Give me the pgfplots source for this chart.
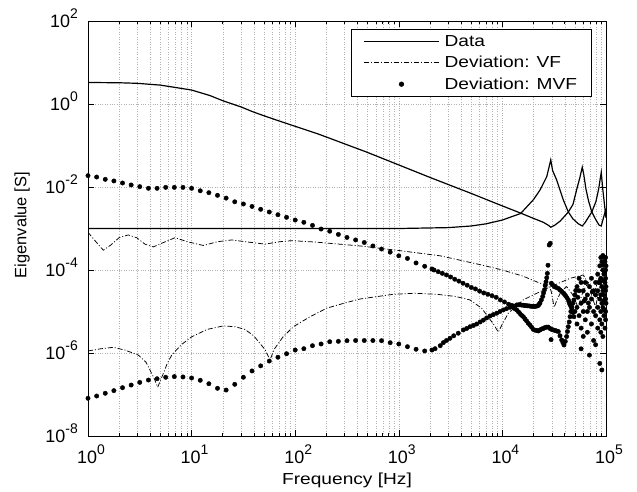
\documentclass[border=0pt]{standalone}
\usepackage{fontspec}
\setmainfont{Liberation Sans}
\usepackage{graphicx}
\usepackage{pgfplots}
\pgfplotsset{compat=1.18}
\newcommand{\sups}[1]{\raisebox{8.5bp}{\fontsize{14}{14}\selectfont #1}}
\newcommand{\wide}[1]{\scalebox{1.2}[1]{#1}}
\pgfplotsset{
  lineleg/.style={legend image code/.code={\draw[##1] (0bp,0bp) -- (75bp,0bp);}},
  dotleg/.style={legend image code/.code={\draw[##1] plot coordinates {(37.5bp,0bp)};}},
}
\begin{document}
\begin{tikzpicture}
\useasboundingbox (0,0) rectangle (637bp,492bp);
\begin{axis}[
  at={(88bp,56bp)}, anchor=south west,
  scale only axis, width=518bp, height=415bp,
  xmode=log, ymode=log,
  xmin=1, xmax=1e5, ymin=1e-8, ymax=1e2,
  xtick={1,10,100,1000,10000,100000},
  xticklabels={10\sups{0},10\sups{1},10\sups{2},10\sups{3},10\sups{4},10\sups{5}},
  minor xtick={2,3,4,5,6,7,8,9,20,30,40,50,60,70,80,90,200,300,400,500,600,700,800,900,2000,3000,4000,5000,6000,7000,8000,9000,20000,30000,40000,50000,60000,70000,80000,90000},
  ytick={1e-8,1e-6,1e-4,1e-2,1,1e2},
  yticklabels={10\sups{-8},10\sups{-6},10\sups{-4},10\sups{-2},10\sups{0},10\sups{2}},
  yminorticks=false,
  xmajorgrids, xminorgrids, ymajorgrids,
  grid style={dotted, gray!60, line width=0.5bp},
  minor grid style={dotted, gray!60, line width=0.5bp},
  tick align=inside,
  major tick length=6bp, minor tick length=3bp,
  every tick/.style={black, line width=0.6bp},
  axis line style={line width=0.9bp},
  tick label style={font=\fontsize{18}{20}\selectfont, inner sep=0pt},
  xticklabel style={anchor=north, yshift=-9bp, xshift=3bp},
  yticklabel style={anchor=base east, xshift=-10bp, yshift=-6.4bp},
  xlabel={\wide{Frequency [Hz]}}, ylabel={Eigenvalue [S]},
  every axis x label/.style={at={(rel axis cs:0.5,-0.106)}, anchor=center, font=\fontsize{16}{18}\selectfont},
  every axis y label/.style={at={(rel axis cs:-0.1274,0.508)}, rotate=90, anchor=center, font=\fontsize{16.5}{18}\selectfont},
  legend cell align=left,
  legend style={at={(0.972,0.98)}, anchor=north east, font=\fontsize{16}{18}\selectfont, draw=black, line width=0.8bp, fill=white, inner xsep=12bp, inner ysep=3.5bp, row sep=4.5bp, column sep=3bp},
]
% Data (two eigenvalues)
\addplot[black, line width=1.2bp, lineleg] coordinates {
(1,3.3)(2,3.25)(3,3.15)(5,2.85)(7,2.5)(10,2.17)(15,1.6)(20,1.2)(30,0.85)(39,0.65)(50,0.52)(70,0.39)(100,0.29)(166,0.19)(200,0.16)(500,0.068)(1000,0.034)(2000,0.017)(5000,0.007)(1e4,0.0035)(1.5e4,0.00235)(2e4,0.00175)(2.5e4,0.0014)(2.8e4,0.00118)(2.93e4,0.00107)(3.2e4,0.0012)(3.6e4,0.0015)(4e4,0.002)(4.33e4,0.0025)(4.8e4,0.0038)(5.2e4,0.0085)(5.6e4,0.017)(5.9e4,0.03)(6.1e4,0.02)(6.4e4,0.009)(6.8e4,0.0045)(7.3e4,0.0025)(8e4,0.0016)(8.6e4,0.0012)(9e4,0.00115)(9.5e4,0.0019)(1e5,0.003)
};
\addlegendentry{\wide{Data}}
\addplot[black, line width=1.2bp, forget plot] coordinates {
(1,0.001)(1000,0.001)(3000,0.00105)(5000,0.00115)(7000,0.0013)(1e4,0.0016)(1.5e4,0.0023)(2e4,0.005)(2.31e4,0.0085)(2.68e4,0.0178)(2.93e4,0.045)(3.05e4,0.025)(3.34e4,0.0148)(3.87e4,0.0049)(4.33e4,0.0025)(4.8e4,0.0017)(5.4e4,0.0013)(5.9e4,0.00115)(6.3e4,0.0014)(6.8e4,0.0019)(7.3e4,0.0025)(8e4,0.0045)(8.5e4,0.009)(8.8e4,0.016)(9e4,0.0226)(9.3e4,0.009)(9.7e4,0.0035)(1e5,0.0018)
};
% VF deviation
\addplot[black, line width=0.75bp, dash pattern=on 5bp off 2bp on 1bp off 2bp, lineleg] coordinates {
(1,8.1e-4)(1.175,5.0e-4)(1.406,3.0e-4)(1.66,4.0e-4)(1.995,6.0e-4)(2.449,7.0e-4)(2.951,6.0e-4)(3.548,4.2e-4)(4.266,3.6e-4)(5.248,4.5e-4)(6.918,6.0e-4)(9.12,4.8e-4)(12.97,3.9e-4)(17.78,4.8e-4)(24.38,5.3e-4)(35.48,4.7e-4)(51.2,4.2e-4)(70.8,4.8e-4)(92.5,5.1e-4)(158.5,4.7e-4)(422,3.8e-4)(1000,2.95e-4)(2500,2.2e-4)(6310,1.32e-4)(1e4,1e-4)(1.585e4,7.1e-5)(2.31e4,4.8e-5)(2.75e4,4.4e-5)(2.95e4,3.16e-5)(3.16e4,1.26e-5)(3.39e4,2.0e-5)(3.72e4,3.16e-5)(4.17e4,3.98e-5)(4.79e4,2.51e-5)(5.37e4,1.26e-5)(6.03e4,3.16e-5)(6.76e4,5.0e-5)(7.59e4,2.51e-5)(8.51e4,6.3e-5)(9.33e4,3.16e-5)(1e5,5.0e-5)
};
\addlegendentry{\wide{Deviation: VF}}
\addplot[black, line width=0.75bp, dash pattern=on 5bp off 2bp on 1bp off 2bp, forget plot] coordinates {
(1,1.12e-6)(1.318,1.26e-6)(1.754,1.37e-6)(2.291,1.17e-6)(3.062,8.9e-7)(3.631,6.0e-7)(3.963,3.9e-7)(4.365,2.4e-7)(4.71,1.5e-7)(5.012,2.2e-7)(5.333,3.2e-7)(5.821,5.6e-7)(6.427,8.9e-7)(7.943,1.58e-6)(10,2.45e-6)(14.13,3.7e-6)(20.23,4.5e-6)(26.3,4.3e-6)(32.7,3.7e-6)(39.8,2.6e-6)(51.2,1.2e-6)(57.1,6.8e-7)(63.1,1.26e-6)(75.9,2.4e-6)(95.9,4.3e-6)(138,7.4e-6)(201,1.2e-5)(295,1.58e-5)(422,2.0e-5)(885,2.6e-5)(1413,2.75e-5)(2323,2.6e-5)(3548,2.3e-5)(4864,1.9e-5)(6310,1.2e-5)(7047,8.3e-6)(8318,4.7e-6)(9120,3.2e-6)(1e4,5.0e-6)(1.14e4,9.1e-6)(1.585e4,1.9e-5)(2.68e4,3.6e-5)(4.5e4,6.3e-5)(6.04e4,7.6e-5)(6.61e4,5.2e-5)(7.24e4,2.5e-5)(7.94e4,1.26e-5)(8.51e4,3.16e-5)(9.12e4,6.3e-5)(1e5,3.16e-5)
};
% MVF deviation
\addplot[black, only marks, mark=*, mark size=2.2bp, dotleg] coordinates {
(1,0.0188)(1.212,0.0174)(1.468,0.0153)(1.778,0.014)(2.154,0.0125)(2.61,0.0112)(3.162,0.0102)(3.831,0.0093)(4.642,0.0093)(5.623,0.0098)(6.813,0.0098)(8.254,0.0098)
(10,0.0093)(12.12,0.0081)(14.68,0.0073)(17.78,0.0063)(21.54,0.0054)(26.1,0.0044)(31.62,0.0039)(38.31,0.0034)(46.42,0.0029)(56.23,0.0025)(68.13,0.00215)(82.54,0.00186)
(100,0.0016)(121.2,0.00141)(146.8,0.00119)(177.8,0.00097)(215.4,0.00086)(261,0.00072)(316.2,0.00061)(383.1,0.00053)(464.2,0.00046)(562.3,0.00038)(681.3,0.00032)(825.4,0.00027)
(1000,0.00022)(1212,0.00019)(1468,0.000148)(1778,0.000123)(2090,1.06e-4)(2188,1.0e-4)(2399,9.1e-5)(2630,8.3e-5)(2884,7.6e-5)(3162,6.8e-5)(3467,6.0e-5)(3802,5.4e-5)(4169,4.8e-5)(4571,4.3e-5)(5012,3.8e-5)(5495,3.5e-5)(6026,3.1e-5)(6607,2.8e-5)(7244,2.6e-5)(7943,2.4e-5)(8710,2.2e-5)(9550,1.9e-5)(1.047e4,1.7e-5)(1.148e4,1.5e-5)(1.23e4,1.4e-5)
(1.274e4,1.29e-5)(1.318e4,1.17e-5)(1.374e4,1.09e-5)(1.429e4,9.8e-6)(1.479e4,8.9e-6)(1.531e4,8.1e-6)(1.592e4,7.5e-6)(1.652e4,6.6e-6)(1.714e4,5.9e-6)(1.778e4,5.2e-6)(1.845e4,4.7e-6)(1.914e4,4.2e-6)(1.986e4,3.7e-6)(2.065e4,3.55e-6)(2.143e4,3.5e-6)(2.223e4,3.4e-6)(2.307e4,3.6e-6)(2.393e4,3.8e-6)(2.483e4,3.9e-6)(2.57e4,4.1e-6)(2.673e4,4.2e-6)(2.773e4,4.2e-6)(2.877e4,3.9e-6)(2.985e4,3.7e-6)(3.097e4,3.6e-6)(3.214e4,3.5e-6)(3.334e4,3.4e-6)(3.467e4,3.3e-6)(3.597e4,2.6e-6)(3.733e4,2.06e-6)(3.837e4,1.78e-6)(3.936e4,1.56e-6)(4.046e4,1.9e-6)(4.169e4,2.5e-6)(4.246e4,3.3e-6)(4.325e4,4.3e-6)(4.416e4,5.6e-6)(4.498e4,7.5e-6)(4.581e4,1.0e-5)(4.667e4,1.3e-5)(4.786e4,1.58e-5)(4.898e4,1.9e-5)
};
\addlegendentry{\wide{Deviation: MVF}}
\addplot[black, only marks, mark=*, mark size=2.2bp, forget plot] coordinates {
(1,8.1e-8)(1.212,9.2e-8)(1.468,1.07e-7)(1.778,1.24e-7)(2.154,1.46e-7)(2.61,1.69e-7)(3.162,1.96e-7)(3.831,2.23e-7)(4.642,2.4e-7)(5.623,2.6e-7)(6.813,2.7e-7)(8.254,2.65e-7)
(10,2.5e-7)(12.12,2.2e-7)(14.68,1.82e-7)(17.78,1.41e-7)(21.54,1.28e-7)(26.1,1.76e-7)(31.62,2.6e-7)(38.31,3.7e-7)(46.42,4.9e-7)(56.23,6.4e-7)(68.13,7.9e-7)(82.54,9.6e-7)
(100,1.18e-6)(121.2,1.27e-6)(146.8,1.5e-6)(177.8,1.65e-6)(215.4,1.87e-6)(261,1.91e-6)(316.2,1.98e-6)(383.1,2.0e-6)(464.2,2.0e-6)(562.3,2.0e-6)(681.3,1.98e-6)(825.4,1.77e-6)
(1000,1.65e-6)(1212,1.42e-6)(1468,1.23e-6)(1778,1.12e-6)(2089,1.18e-6)(2239,1.27e-6)(2512,1.5e-6)(2692,1.78e-6)(2884,2.0e-6)(3119,2.26e-6)(3388,2.6e-6)(3750,3.0e-6)(4198,3.6e-6)(4519,3.9e-6)(4864,4.3e-6)(5248,4.6e-6)(5649,5.0e-6)(6095,5.6e-6)(6546,6.2e-6)(7047,7.0e-6)(7586,7.8e-6)(8166,8.4e-6)(8810,9.1e-6)(9484,1.0e-5)(1.021e4,1.09e-5)(1.096e4,1.17e-5)(1.183e4,1.26e-5)(1.274e4,1.35e-5)(1.374e4,1.44e-5)
(1.429e4,1.45e-5)(1.479e4,1.45e-5)(1.531e4,1.43e-5)(1.585e4,1.42e-5)(1.641e4,1.4e-5)(1.698e4,1.38e-5)(1.758e4,1.37e-5)(1.82e4,1.36e-5)(1.884e4,1.34e-5)(1.95e4,1.33e-5)(2.018e4,1.33e-5)(2.089e4,1.33e-5)(2.163e4,1.36e-5)(2.223e4,1.4e-5)(2.265e4,1.5e-5)(2.307e4,1.6e-5)(2.377e4,1.9e-5)(2.449e4,2.3e-5)(2.495e4,2.8e-5)(2.541e4,3.3e-5)(2.588e4,4.2e-5)(2.636e4,5.2e-5)(2.679e4,6.5e-5)(2.716e4,8.3e-5)(2.754e4,1.3e-4)(2.831e4,4.0e-4)(2.897e4,4.4e-4)
(2.95e4,2.1e-6)
(2.97e4,4.8e-5)(3.05e4,4.4e-5)(3.16e4,4.0e-5)(3.3e4,3.8e-5)(3.47e4,3.6e-5)(3.6e4,3.3e-5)(3.72e4,3.1e-5)(3.87e4,2.8e-5)(3.97e4,2.6e-5)(4.07e4,2.4e-5)(4.2e4,2.15e-5)(4.33e4,1.9e-5)(4.4e4,1.7e-5)(4.47e4,1.5e-5)(4.57e4,1.35e-5)(4.67e4,1.2e-5)(4.78e4,9.5e-6)(4.9e4,7.5e-6)
};
% MVF scattered points at high frequency
\addplot[black, only marks, mark=*, mark size=2.2bp, forget plot] coordinates {
(5.01e4,2.51e-5)(5.01e4,1e-5)(5.1e4,3.2e-5)
(5.25e4,3.98e-5)(5.25e4,1.26e-5)(5.25e4,5.01e-6)(5.35e4,2.2e-5)
(5.5e4,3.16e-5)(5.5e4,7.94e-6)(5.5e4,6.31e-5)
(5.75e4,1.58e-5)(5.75e4,3.98e-6)(5.75e4,5.01e-5)(5.75e4,1.26e-6)
(6.03e4,3.16e-5)(6.03e4,1e-5)(6.03e4,2.51e-6)(6.15e4,1.8e-5)
(6.31e4,5.01e-5)(6.31e4,2.0e-5)(6.31e4,6.31e-6)
(6.61e4,2.51e-5)(6.61e4,1e-5)(6.61e4,3.16e-6)(6.75e4,1.6e-5)
(6.92e4,3.98e-5)(6.92e4,1.26e-5)(6.92e4,8.9e-7)
(7.24e4,6.31e-5)(7.24e4,2.0e-5)(7.24e4,5.01e-6)(7.4e4,3.0e-5)
(7.59e4,3.16e-5)(7.59e4,1e-5)(7.59e4,2.0e-6)
(7.94e4,5.01e-5)(7.94e4,2.51e-5)(7.94e4,7.94e-6)(7.94e4,1.58e-6)
(8.32e4,7.94e-5)(8.32e4,3.16e-5)(8.32e4,1.26e-5)(8.32e4,3.98e-6)(8.5e4,5.0e-5)
(8.71e4,1.26e-4)(8.71e4,5.01e-5)(8.71e4,2.0e-5)(8.71e4,6.31e-6)(8.71e4,5.6e-7)
(8.91e4,2.0e-4)(8.91e4,6.31e-5)(8.91e4,2.51e-5)(8.91e4,1e-5)(8.91e4,3.16e-6)
(9.12e4,1.58e-4)(9.12e4,3.98e-5)(9.12e4,1.58e-5)(9.12e4,5.01e-6)(9.12e4,3.9e-7)
(9.33e4,2.24e-4)(9.33e4,1e-4)(9.33e4,3.16e-5)(9.33e4,1.26e-5)(9.33e4,2.51e-6)
(9.45e4,1.3e-4)(9.45e4,5.6e-5)(9.45e4,1.8e-5)
(9.55e4,2.0e-4)(9.55e4,7.94e-5)(9.55e4,2.51e-5)(9.55e4,7.94e-6)
(9.7e4,8.9e-5)(9.7e4,3.5e-5)(9.7e4,1.1e-5)
(9.77e4,1.58e-4)(9.77e4,5.01e-5)(9.77e4,2.0e-5)(9.77e4,3.98e-6)
(9.9e4,2.0e-4)(9.9e4,1.0e-4)(9.9e4,6.3e-5)(9.9e4,3.2e-5)(9.9e4,2.0e-5)(9.9e4,1.0e-5)(9.9e4,6.3e-6)
(1e5,1.26e-4)(1e5,3.98e-5)(1e5,1.58e-5)
};
\end{axis}
\end{tikzpicture}
\end{document}
